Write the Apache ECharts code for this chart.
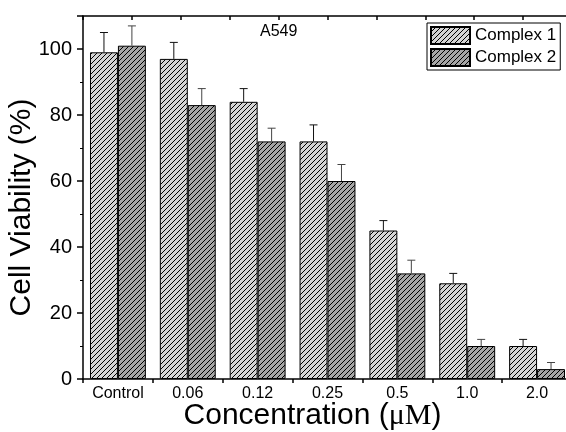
<!DOCTYPE html>
<html><head><meta charset="utf-8">
<script src="https://cdn.jsdelivr.net/npm/echarts@6/dist/echarts.min.js"></script>
<style>html,body{margin:0;padding:0;background:#fff}#c{width:566px;height:432px}</style>
</head><body><div id="c"></div>
<script>
const categories = ['Control','0.06','0.12','0.25','0.5','1.0','2.0'];
const complex1 = [99, 97, 84, 72, 45, 29, 10];
const complex1Err = [6, 5, 4, 5, 3, 3, 2];
const complex2 = [101, 83, 72, 60, 32, 10, 3];
const complex2Err = [6, 5, 4, 5, 4, 2, 2];
const yTicks = [0, 20, 40, 60, 80, 100];

function hatch(bg){
  const s = 5;
  const c = document.createElement('canvas');
  c.width = s; c.height = s;
  const g = c.getContext('2d');
  g.fillStyle = bg; g.fillRect(0,0,s,s);
  g.strokeStyle = '#000'; g.lineWidth = 1;
  g.beginPath();
  g.moveTo(0, s); g.lineTo(s, 0);
  g.moveTo(-s, s); g.lineTo(s, -s);
  g.moveTo(0, 2*s); g.lineTo(2*s, 0);
  g.stroke();
  return {image: c, repeat: 'repeat'};
}
const FONT = 'Liberation Sans, Arial, sans-serif';
const chart = echarts.init(document.getElementById('c'));

function errRender(side, color){
  return function(params, api){
    const x = api.value(0), v = api.value(1), e = api.value(2);
    const bw = api.size([1,0])[0]*0.4;
    const off = side*bw/2;
    const p0 = api.coord([x, v]); const p1 = api.coord([x, v+e]);
    const cx = p0[0]+off;
    return {type:'group', children:[
      {type:'line', shape:{x1:cx,y1:p0[1],x2:cx,y2:p1[1]}, style:{stroke:color,lineWidth:1}},
      {type:'line', shape:{x1:cx-4,y1:p1[1],x2:cx+4,y2:p1[1]}, style:{stroke:color,lineWidth:1}}
    ]};
  };
}

chart.setOption({
  animation:false,
  title:{text:'A549', left:255, top:19, textStyle:{fontFamily:FONT, fontSize:16, fontWeight:'normal', color:'#000'}},
  legend:{
    orient:'vertical', left:427, top:23, itemWidth:39, itemHeight:17, itemGap:3, icon:'rect',
    padding:[3,4,3,3], borderColor:'#000', borderWidth:1, backgroundColor:'#fff',
    textStyle:{fontFamily:FONT, fontSize:17, color:'#000'},
    data:['Complex 1','Complex 2']
  },
  grid:{left:83, right:-6, top:16, bottom:53, containLabel:false, outerBoundsMode:'none'},
  xAxis:[{
    type:'category', data:categories,
    axisLine:{lineStyle:{color:'#000', width:1.5}},
    axisTick:{show:true, length:4, alignWithLabel:false, lineStyle:{color:'#000', width:1.5}},
    axisLabel:{fontFamily:FONT, fontSize:16, color:'#000', margin:7},
    name:'{a|Concentration (}{b|μM}{a|)}', nameLocation:'middle', nameGap:22, nameMoveOverlap:false,
    nameTextStyle:{padding:[0,30,0,0], rich:{a:{fontFamily:FONT, fontSize:30, color:'#000'}, b:{fontFamily:'Liberation Serif, Times New Roman, serif', fontSize:30, color:'#000'}}}
  },{
    type:'value', position:'top', min:0, max:10, interval:1,
    axisLine:{show:true, lineStyle:{color:'#000', width:1.5}},
    axisTick:{show:true, inside:true, length:4, lineStyle:{color:'#000', width:1.5}},
    axisLabel:{show:false}, splitLine:{show:false}
  }],
  yAxis:{
    type:'value', min:0, max:110, interval:20,
    axisLine:{show:true, lineStyle:{color:'#000', width:1.5}},
    axisTick:{show:true, length:6, lineStyle:{color:'#000', width:1.5}},
    minorTick:{show:true, splitNumber:2, length:3, lineStyle:{color:'#000', width:1}},
    axisLabel:{fontFamily:FONT, fontSize:20, color:'#000', margin:11, formatter:function(v){return yTicks.indexOf(v)>=0 ? String(v) : '';}},
    splitLine:{show:false},
    name:'Cell Viability (%)', nameLocation:'middle', nameGap:46, nameMoveOverlap:false,
    nameTextStyle:{fontFamily:FONT, fontSize:30, color:'#000', padding:[0,20,0,0]}
  },
  series:[
    {name:'Complex 1', type:'bar', data:complex1, barWidth:'40%', barGap:'0%',
     itemStyle:{color:hatch('#d4d4d4'), borderColor:'#000', borderWidth:1}},
    {name:'Complex 2', type:'bar', data:complex2, barWidth:'40%', barGap:'0%',
     itemStyle:{color:hatch('#a6a6a6'), borderColor:'#000', borderWidth:1}},
    {type:'custom', renderItem:errRender(-1,'#111'), z:5,
     data:complex1.map((v,i)=>[i,v,complex1Err[i]])},
    {type:'custom', renderItem:errRender(1,'#444'), z:5,
     data:complex2.map((v,i)=>[i,v,complex2Err[i]])}
  ]
});
</script></body></html>
